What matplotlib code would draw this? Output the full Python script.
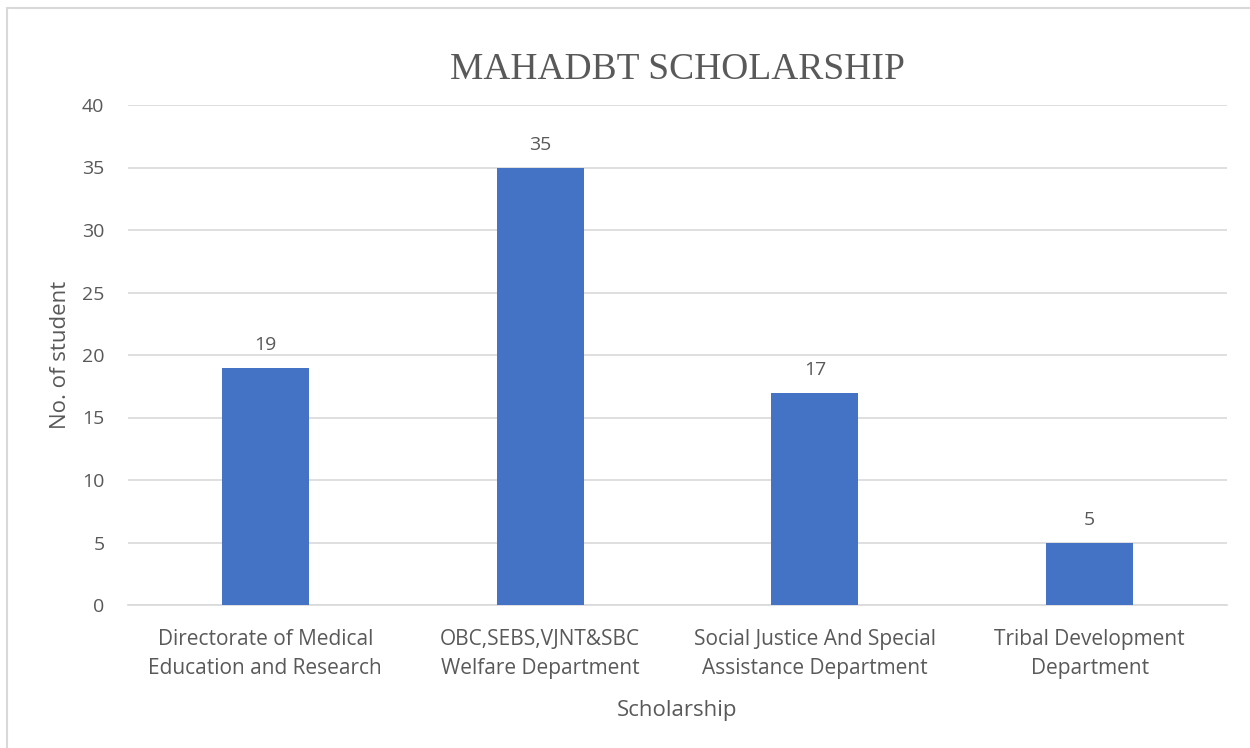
import matplotlib.pyplot as plt
from matplotlib.patches import Rectangle

# Data
categories = ['Directorate of Medical\nEducation and Research',
              'OBC,SEBS,VJNT&SBC\nWelfare Department',
              'Social Justice And Special\nAssistance Department',
              'Tribal Development\nDepartment']
students = [19, 35, 17, 5]
yticks = [0, 5, 10, 15, 20, 25, 30, 35, 40]

text_color = '#595959'
bar_color = '#4472C4'
grid_color = '#D9D9D9'

plt.rcParams['font.family'] = ['Open Sans', 'DejaVu Sans']

fig = plt.figure(figsize=(12.5, 7.48), dpi=100)
ax = fig.add_axes([128 / 1250, 1 - 605 / 748, (1227 - 128) / 1250, 500 / 748])

x = list(range(len(categories)))
bars = ax.bar(x, students, width=0.316, color=bar_color, zorder=3)

# Value labels above the bars
for xi, v in zip(x, students):
    ax.annotate(str(v), (xi, v), xytext=(0, 10), textcoords='offset points',
                ha='center', va='bottom', fontsize=14, color=text_color)

ax.set_xlim(-0.5, 3.5)
ax.set_ylim(0, 40)
ax.set_yticks(yticks)
ax.set_xticks(x)
ax.set_xticklabels(categories, fontsize=15, color=text_color, linespacing=1.54)
ax.tick_params(axis='y', labelsize=14, labelcolor=text_color, length=0, pad=17)
ax.tick_params(axis='x', length=0, pad=17)

# Grid lines
ax.grid(axis='y', color=grid_color, linewidth=1.2, zorder=0)
for s in ['top', 'right', 'left']:
    ax.spines[s].set_visible(False)
ax.spines['bottom'].set_color(grid_color)
ax.spines['bottom'].set_linewidth(1.2)

ax.set_xlabel('Scholarship', fontsize=16, color=text_color, labelpad=15)
ax.set_ylabel('No. of student', fontsize=16, color=text_color, labelpad=8)

fig.text(0.5416, 1 - 70 / 748, 'MAHADBT SCHOLARSHIP', ha='center', va='center',
         fontsize=27, color=text_color, family='Liberation Serif')

# Chart border
fig.patches.append(Rectangle((7 / 1250, -0.01), 1.1, 1 - 8 / 748 + 0.01,
                             transform=fig.transFigure, fill=False,
                             edgecolor=grid_color, linewidth=1.5))

fig.savefig('out.png', dpi=100)
